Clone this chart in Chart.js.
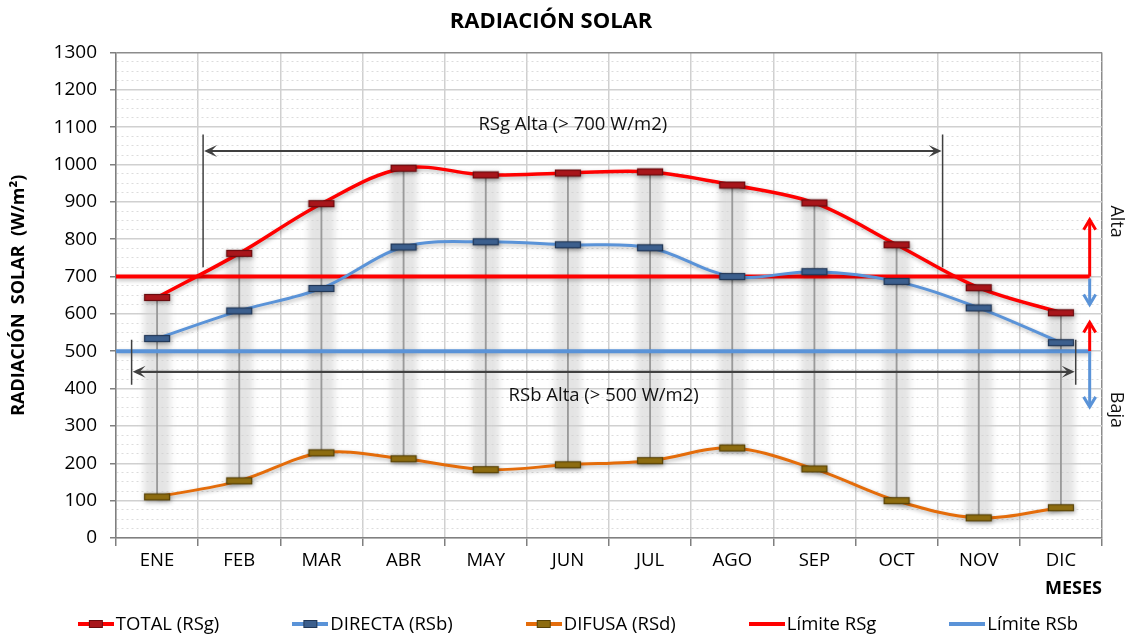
<!DOCTYPE html>
<html>
<head>
<meta charset="utf-8">
<script src="https://cdn.jsdelivr.net/npm/chart.js@4"></script>
<style>
  html, body { margin: 0; padding: 0; background: #fff; }
  #contenedor { width: 1127px; height: 634px; }
</style>
</head>
<body>
<div id="contenedor"><canvas id="graficoRadiacion"></canvas></div>
<script>
// Datos
const meses = ['ENE', 'FEB', 'MAR', 'ABR', 'MAY', 'JUN', 'JUL', 'AGO', 'SEP', 'OCT', 'NOV', 'DIC'];
const total = [644, 762, 895, 990, 972, 977, 980, 945, 897, 785, 670, 603];
const directa = [534, 608, 668, 779, 793, 785, 777, 700, 713, 687, 616, 523];
const difusa = [110, 153, 228, 212, 183, 196, 207, 241, 185, 100, 54, 81];
const limiteRSg = 700;
const limiteRSb = 500;
const ejeY = { min: 0, max: 1300, paso: 100 };

const fuente = "'Open Sans', Carlito, 'Liberation Sans', sans-serif";
const azul = '#5a93d8';

// Marcadores rectangulares tipo Excel
function crearMarcador(relleno, borde, w, h) {
    const c = document.createElement('canvas');
    c.width = w + 2; c.height = h + 2;
    const g = c.getContext('2d');
    g.fillStyle = relleno;
    g.fillRect(1, 1, w, h);
    g.strokeStyle = borde;
    g.lineWidth = 1.2;
    g.strokeRect(1.5, 1.5, w - 1, h - 1);
    return c;
}

// Icono de leyenda: línea + marcador
function crearIcono(colorLinea, relleno, borde) {
    const c = document.createElement('canvas');
    c.width = 36; c.height = 12;
    const g = c.getContext('2d');
    g.strokeStyle = colorLinea;
    g.lineWidth = 4;
    g.beginPath(); g.moveTo(0, 6); g.lineTo(36, 6); g.stroke();
    if (relleno) {
        g.fillStyle = relleno;
        g.fillRect(11, 2, 14, 8);
        g.strokeStyle = borde; g.lineWidth = 1;
        g.strokeRect(11.5, 2.5, 13, 7);
    }
    return c;
}

const marcaTotal = crearMarcador('#a8161b', '#6a0b0e', 26, 7);
const marcaDirecta = crearMarcador('#3c5f8d', '#213756', 26, 7);
const marcaDifusa = crearMarcador('#8d6c10', '#574207', 26, 7);

const iconos = [
    crearIcono('#ff0000', '#a8161b', '#6a0b0e'),
    crearIcono(azul, '#3c5f8d', '#213756'),
    crearIcono('#e46c0a', '#8d6c10', '#574207'),
    crearIcono('#ff0000'),
    crearIcono(azul)
];

// Posiciones de las anotaciones (en unidades de los ejes)
const anot = {
    rsg: { x1: 1.06, x2: 10.06, y: 1036, arriba: 1080, abajo: 725, textoY: 1106, texto: 'RSg Alta (> 700 W/m2)' },
    rsb: { x1: 0.19, x2: 11.68, y: 445, arriba: 531, abajo: 410, textoY: 381, texto: 'RSb Alta (> 500 W/m2)' },
    flechaX: 11.85
};

// Sombras y difuminado por dataset
const efectos = {
    id: 'efectos',
    beforeDatasetDraw(chart, args) {
        const ds = chart.data.datasets[args.index];
        const ctx = chart.ctx;
        ctx.save();
        if (ds.banda) {
            ctx.filter = 'blur(3px)';
        } else if (ds.type === 'line') {
            ctx.shadowColor = 'rgba(0,0,0,0.28)';
            ctx.shadowBlur = 4;
            ctx.shadowOffsetX = 1;
            ctx.shadowOffsetY = 2;
        }
    },
    afterDatasetDraw(chart) {
        chart.ctx.restore();
    }
};

function punta(ctx, x, y, dx, dy) {
    // punta cerrada estilo "stealth"
    const L = 13, W = 6;
    const px = -dy, py = dx;
    ctx.beginPath();
    ctx.moveTo(x, y);
    ctx.lineTo(x - dx * L + px * W, y - dy * L + py * W);
    ctx.lineTo(x - dx * L * 0.55, y - dy * L * 0.55);
    ctx.lineTo(x - dx * L - px * W, y - dy * L - py * W);
    ctx.closePath();
    ctx.fill();
}

function chevron(ctx, x, y, dir, color) {
    ctx.strokeStyle = color;
    ctx.lineWidth = 3;
    ctx.beginPath();
    ctx.moveTo(x - 6, y + dir * 10);
    ctx.lineTo(x, y);
    ctx.lineTo(x + 6, y + dir * 10);
    ctx.stroke();
}

const anotaciones = {
    id: 'anotaciones',
    afterDatasetsDraw(chart) {
        const ctx = chart.ctx;
        const sx = chart.scales.x2, sy = chart.scales.y;
        ctx.save();

        [anot.rsg, anot.rsb].forEach(a => {
            const x1 = sx.getPixelForValue(a.x1), x2 = sx.getPixelForValue(a.x2);
            const y = sy.getPixelForValue(a.y);
            ctx.strokeStyle = '#404040';
            ctx.fillStyle = '#404040';
            ctx.lineWidth = 1.5;
            ctx.beginPath();
            ctx.moveTo(x1, sy.getPixelForValue(a.arriba)); ctx.lineTo(x1, sy.getPixelForValue(a.abajo));
            ctx.moveTo(x2, sy.getPixelForValue(a.arriba)); ctx.lineTo(x2, sy.getPixelForValue(a.abajo));
            ctx.stroke();
            ctx.lineWidth = 2.2;
            ctx.beginPath();
            ctx.moveTo(x1 + 6, y); ctx.lineTo(x2 - 6, y);
            ctx.stroke();
            punta(ctx, x1 + 1, y, -1, 0);
            punta(ctx, x2 - 1, y, 1, 0);
            ctx.fillStyle = '#111';
            ctx.font = '18.5px ' + fuente;
            ctx.textAlign = 'center';
            ctx.textBaseline = 'middle';
            ctx.fillText(a.texto, (x1 + x2) / 2, sy.getPixelForValue(a.textoY));
        });

        // Flechas verticales de los límites
        const fx = sx.getPixelForValue(anot.flechaX);
        const yG = sy.getPixelForValue(limiteRSg), yB = sy.getPixelForValue(limiteRSb);
        const tramos = [
            { y0: yG, y1: sy.getPixelForValue(852), color: '#ff0000' },
            { y0: yG + 2, y1: sy.getPixelForValue(625), color: azul },
            { y0: yB, y1: sy.getPixelForValue(577), color: '#ff0000' },
            { y0: yB, y1: sy.getPixelForValue(351), color: azul }
        ];
        tramos.forEach(t => {
            ctx.strokeStyle = t.color;
            ctx.lineWidth = 3;
            ctx.beginPath(); ctx.moveTo(fx, t.y0); ctx.lineTo(fx, t.y1); ctx.stroke();
            chevron(ctx, fx, t.y1, t.y1 < t.y0 ? 1 : -1, t.color);
        });

        // Textos "Alta" y "Baja"
        ctx.fillStyle = '#111';
        ctx.font = '18px ' + fuente;
        ctx.textAlign = 'center';
        ctx.textBaseline = 'middle';
        [['Alta', 847], ['Baja', 343]].forEach(([t, v]) => {
            ctx.save();
            ctx.translate(1116, sy.getPixelForValue(v));
            ctx.rotate(Math.PI / 2);
            ctx.fillText(t, 0, 0);
            ctx.restore();
        });
        ctx.restore();
    }
};

// Leyenda dibujada a mano (espaciado amplio como en el original)
const leyenda = {
    id: 'leyenda',
    afterDraw(chart) {
        const ctx = chart.ctx;
        const orden = [2, 3, 4, 5, 6];
        ctx.save();
        ctx.font = '18.5px ' + fuente;
        ctx.fillStyle = '#000';
        ctx.textBaseline = 'middle';
        ctx.textAlign = 'left';
        const hueco = 73, gap = 2;
        const anchos = orden.map((i, k) => iconos[k].width + gap + ctx.measureText(chart.data.datasets[i].label).width);
        const totalAncho = anchos.reduce((a, b) => a + b, 0) + hueco * (orden.length - 1);
        let x = 578 - totalAncho / 2;
        const y = 624;
        orden.forEach((i, k) => {
            ctx.drawImage(iconos[k], x, y - 6);
            ctx.fillText(chart.data.datasets[i].label, x + iconos[k].width + gap, y + 1);
            x += anchos[k] + hueco;
        });
        ctx.restore();
    }
};

Chart.defaults.font.family = fuente;
Chart.defaults.color = '#000';

window.addEventListener('DOMContentLoaded', () => {
    const ctx = document.getElementById('graficoRadiacion').getContext('2d');
    new Chart(ctx, {
        type: 'line',
        data: {
            labels: meses,
            datasets: [
                {
                    type: 'bar',
                    label: 'banda',
                    banda: true,
                    data: meses.map((m, i) => [difusa[i] - 8, total[i] + 6]),
                    backgroundColor: 'rgba(205,205,205,0.55)',
                    barThickness: 26,
                    grouped: false,
                    order: 10
                },
                {
                    type: 'bar',
                    label: 'caida',
                    data: meses.map((m, i) => [difusa[i], total[i]]),
                    backgroundColor: '#9a9a9a',
                    barThickness: 1.2,
                    grouped: false,
                    order: 9
                },
                {
                    type: 'line',
                    label: 'TOTAL (RSg)',
                    data: total,
                    borderColor: '#ff0000',
                    borderWidth: 3.5,
                    tension: 0.35,
                    pointStyle: marcaTotal,
                    pointRadius: 5,
                    order: 1
                },
                {
                    type: 'line',
                    label: 'DIRECTA (RSb)',
                    data: directa,
                    borderColor: azul,
                    borderWidth: 3,
                    tension: 0.35,
                    pointStyle: marcaDirecta,
                    pointRadius: 5,
                    order: 2
                },
                {
                    type: 'line',
                    label: 'DIFUSA (RSd)',
                    data: difusa,
                    borderColor: '#e46c0a',
                    borderWidth: 3,
                    tension: 0.35,
                    pointStyle: marcaDifusa,
                    pointRadius: 5,
                    order: 3
                },
                {
                    type: 'line',
                    label: 'Límite RSg',
                    xAxisID: 'x2',
                    data: [{ x: 0, y: limiteRSg }, { x: anot.flechaX, y: limiteRSg }],
                    borderColor: '#ff0000',
                    borderWidth: 4,
                    pointRadius: 0,
                    order: 5
                },
                {
                    type: 'line',
                    label: 'Límite RSb',
                    xAxisID: 'x2',
                    data: [{ x: 0, y: limiteRSb }, { x: anot.flechaX, y: limiteRSb }],
                    borderColor: azul,
                    borderWidth: 4,
                    pointRadius: 0,
                    order: 6
                }
            ]
        },
        options: {
            responsive: true,
            maintainAspectRatio: false,
            animation: false,
            layout: { padding: { left: 0, right: 25, top: 0, bottom: 34 } },
            plugins: {
                legend: { display: false },
                tooltip: { enabled: false },
                title: {
                    display: true,
                    text: 'RADIACIÓN SOLAR',
                    color: '#000',
                    font: { size: 22, weight: 'bold' },
                    padding: { top: 9, bottom: 17 }
                }
            },
            scales: {
                x: {
                    type: 'category',
                    offset: true,
                    grid: {
                        offset: true,
                        color: c => c.index === undefined ? '#8c8c8c' : '#d0d0d0',
                        lineWidth: 1.5,
                        tickColor: '#7f7f7f',
                        tickLength: 8
                    },
                    border: { color: '#7f7f7f', width: 1.5 },
                    ticks: { font: { size: 18.5 }, padding: 4 },
                    title: {
                        display: true,
                        text: 'MESES',
                        align: 'end',
                        font: { size: 18, weight: 'bold' },
                        padding: { top: 0, bottom: 0 }
                    },
                    afterFit: s => { s.height = 62; }
                },
                x2: {
                    type: 'linear',
                    display: false,
                    min: 0,
                    max: meses.length
                },
                y: {
                    min: ejeY.min,
                    max: ejeY.max,
                    ticks: {
                        stepSize: 25,
                        autoSkip: false,
                        font: { size: 19 },
                        padding: 13,
                        callback: v => v % ejeY.paso === 0 ? v : ''
                    },
                    grid: {
                        color: c => {
                            if (!c.tick) return '#d0d0d0';
                            if (c.tick.value === ejeY.max) return '#8c8c8c';
                            return c.tick.value % ejeY.paso === 0 ? '#d0d0d0' : '#dcdcdc';
                        },
                        lineWidth: c => c.tick && c.tick.value % ejeY.paso === 0 ? 1.5 : 1,
                        tickColor: c => c.tick && c.tick.value % ejeY.paso === 0 ? '#7f7f7f' : 'rgba(0,0,0,0)',
                        tickLength: 6
                    },
                    border: {
                        color: '#7f7f7f',
                        width: 1.5,
                        dash: c => c.tick && c.tick.value % ejeY.paso !== 0 ? [2, 3] : []
                    },
                    title: {
                        display: true,
                        text: 'RADIACIÓN  SOLAR  (W/m²)',
                        font: { size: 18, weight: 'bold' },
                        padding: { top: 8, bottom: 0 }
                    },
                    afterFit: s => { s.width = 116; }
                }
            }
        },
        plugins: [efectos, anotaciones, leyenda]
    });
});
</script>
</body>
</html>
